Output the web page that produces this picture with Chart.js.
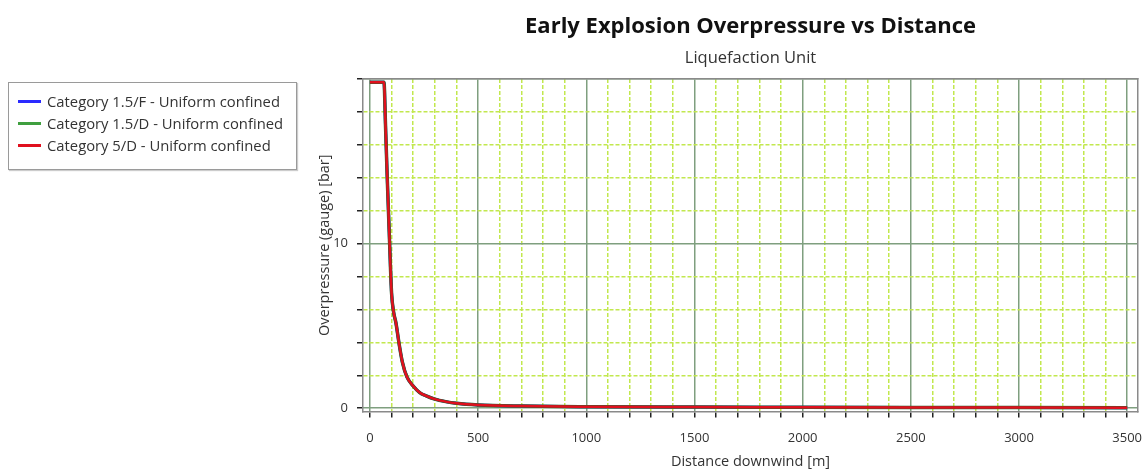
<!DOCTYPE html>
<html>
<head>
<meta charset="utf-8">
<script src="https://cdn.jsdelivr.net/npm/chart.js@4.4.1/dist/chart.umd.min.js"></script>
<style>
  html, body { margin: 0; padding: 0; background: #fff; }
  #wrap { position: relative; width: 1147px; height: 475px; }
  #legend {
    position: absolute; left: 8px; top: 82px; width: 287px; height: 86px;
    border: 1px solid #9a9a9a; box-shadow: 1px 1px 1px #ccc;
    font: 14.8px "Open Sans", sans-serif; color: #333; background: #fff;
  }
  .row { position: absolute; left: 0; height: 20px; line-height: 20px; white-space: nowrap; }
  .swatch { position: absolute; left: 9px; top: 9px; width: 23px; height: 3px; }
  .lbl { position: absolute; left: 38px; top: 0; }
</style>
</head>
<body>
<div id="wrap">
  <canvas id="myChart" width="1147" height="475"></canvas>
  <div id="legend"></div>
</div>
<script>
// ═══════════════════════════════════════
//  DONNÉES
// ═══════════════════════════════════════

const distance = [0, 30, 65, 72, 80, 90, 100, 110, 120, 135, 150, 171, 200, 230, 260, 300, 350, 400, 500, 700, 1000, 1500, 2000, 2500, 3000, 3500];

const pressureCat15F = [19.8, 19.8, 19.8, 17.2, 14.0, 10.4, 7.0, 5.8, 5.2, 3.9, 2.8, 1.9, 1.35, 0.95, 0.75, 0.55, 0.4, 0.3, 0.2, 0.13, 0.09, 0.07, 0.06, 0.05, 0.04, 0.035];
const pressureCat15D = [19.8, 19.8, 19.8, 17.2, 14.0, 10.4, 7.0, 5.8, 5.2, 3.9, 2.8, 1.9, 1.35, 0.95, 0.75, 0.55, 0.4, 0.3, 0.2, 0.13, 0.09, 0.07, 0.06, 0.05, 0.04, 0.035];
const pressureCat5D  = [19.8, 19.8, 19.8, 17.2, 14.0, 10.4, 7.0, 5.8, 5.2, 3.9, 2.8, 1.9, 1.35, 0.95, 0.75, 0.55, 0.4, 0.3, 0.2, 0.13, 0.09, 0.07, 0.06, 0.05, 0.04, 0.035];

const seriesNames  = ['Category 1.5/F - Uniform confined', 'Category 1.5/D - Uniform confined', 'Category 5/D - Uniform confined'];
const seriesColors = ['#2a2aff', '#3f9f3f', '#e0101e'];

const xTickLabels = [0, 500, 1000, 1500, 2000, 2500, 3000, 3500];
const yTickLabels = [0, 10, 20];

const X_MIN = -32, X_MAX = 3550;
const Y_MIN = -0.2, Y_MAX = 20;

const MAJOR = '#7f9f7f';
const MINOR = '#c2e84e';
const FONT  = '"Open Sans", sans-serif';

// ═══════════════════════════════════════
//  LÉGENDE
// ═══════════════════════════════════════

const legend = document.getElementById('legend');
seriesNames.forEach((name, i) => {
  const row = document.createElement('div');
  row.className = 'row';
  row.style.top = (8 + i * 22) + 'px';
  row.innerHTML = `<span class="swatch" style="background:${seriesColors[i]}"></span><span class="lbl">${name}</span>`;
  legend.appendChild(row);
});

// ═══════════════════════════════════════
//  GRAPHE
// ═══════════════════════════════════════

const toPoints = arr => distance.map((x, i) => ({ x, y: arr[i] }));

const ctx = document.getElementById('myChart').getContext('2d');

new Chart(ctx, {
  type: 'line',
  data: {
    datasets: [
      { label: seriesNames[0], data: toPoints(pressureCat15F), borderColor: seriesColors[0], borderWidth: 3, order: 2 },
      { label: seriesNames[1], data: toPoints(pressureCat15D), borderColor: '#2f5f2f', borderWidth: 3.5, order: 1 },
      { label: seriesNames[2], data: toPoints(pressureCat5D),  borderColor: seriesColors[2], borderWidth: 2.5, order: 0 }
    ]
  },
  options: {
    responsive: false,
    animation: false,
    layout: { padding: { left: 313, right: 9, top: 0, bottom: 0 } },
    elements: {
      point: { radius: 0 },
      line: { cubicInterpolationMode: 'monotone' }
    },
    plugins: {
      legend: { display: false },
      tooltip: { enabled: false },
      title: {
        display: true,
        fullSize: false,
        text: 'Early Explosion Overpressure vs Distance',
        color: '#111',
        font: { family: FONT, size: 22, weight: 'bold' },
        padding: { top: 13.8, bottom: 0 }
      },
      subtitle: {
        display: true,
        fullSize: false,
        text: 'Liquefaction Unit',
        color: '#333',
        font: { family: FONT, size: 16.5 },
        padding: { top: 7.9, bottom: 11.1 }
      }
    },
    scales: {
      x: {
        type: 'linear',
        position: 'bottom',
        min: X_MIN, max: X_MAX,
        afterBuildTicks: s => { s.ticks = s.ticks.filter(t => t.value >= 0 && t.value <= 3500 && t.value % 100 === 0); },
        afterFit: s => { s.height = 63.5; s.paddingLeft = 0; s.paddingRight = 0; },
        ticks: {
          stepSize: 100, autoSkip: false, maxRotation: 0, includeBounds: false,
          padding: 13, color: '#333',
          font: { family: FONT, size: 13 },
          callback: v => xTickLabels.includes(v) ? String(v) : ''
        },
        grid: {
          color: c => (c.tick && c.tick.value % 500 === 0) ? 'rgba(0,0,0,0)' : MINOR,
          lineWidth: 1.5,
          tickColor: '#222', tickLength: 6, tickWidth: 1.5
        },
        border: { color: '#8a8a8a', width: 1.5, dash: [4, 2] },
        title: {
          display: true, text: 'Distance downwind [m]', color: '#333',
          font: { family: FONT, size: 14.5 },
          padding: { top: 2, bottom: 4.3 }
        }
      },
      xMajor: {
        type: 'linear',
        position: 'top',
        min: X_MIN, max: X_MAX,
        afterBuildTicks: s => { s.ticks = xTickLabels.map(v => ({ value: v })); },
        afterFit: s => { s.height = 0; s.paddingLeft = 0; s.paddingRight = 0; },
        ticks: { display: false },
        grid: { color: MAJOR, lineWidth: 1.5, drawTicks: false },
        border: { color: '#8a8a8a', width: 1.5 }
      },
      y: {
        type: 'linear',
        position: 'left',
        min: Y_MIN, max: Y_MAX,
        afterBuildTicks: s => { s.ticks = s.ticks.filter(t => t.value >= 0 && t.value <= 20 && Math.abs(t.value % 2) < 1e-9); },
        afterFit: s => { s.width = 50; s.paddingTop = 0; s.paddingBottom = 0; },
        ticks: {
          stepSize: 2, autoSkip: false, includeBounds: false,
          padding: 9, color: '#333',
          font: { family: FONT, size: 13 },
          callback: v => (v === 0 || v === 10) ? String(v) : ''
        },
        grid: {
          color: c => (c.tick && c.tick.value % 10 === 0) ? 'rgba(0,0,0,0)' : MINOR,
          lineWidth: 1.5,
          tickColor: '#222', tickLength: 6, tickWidth: 1.5
        },
        border: { color: '#8a8a8a', width: 1.5, dash: [4, 2] },
        title: {
          display: true, text: 'Overpressure (gauge) [bar]', color: '#333',
          font: { family: FONT, size: 14.5 },
          padding: { top: 3, bottom: 0 }
        }
      },
      yMajor: {
        type: 'linear',
        position: 'right',
        min: Y_MIN, max: Y_MAX,
        afterBuildTicks: s => { s.ticks = yTickLabels.map(v => ({ value: v })); },
        afterFit: s => { s.width = 0; s.paddingTop = 0; s.paddingBottom = 0; },
        ticks: { display: false },
        grid: { color: MAJOR, lineWidth: 1.5, drawTicks: false },
        border: { color: '#8a8a8a', width: 1.5 }
      }
    }
  }
});
</script>
</body>
</html>
